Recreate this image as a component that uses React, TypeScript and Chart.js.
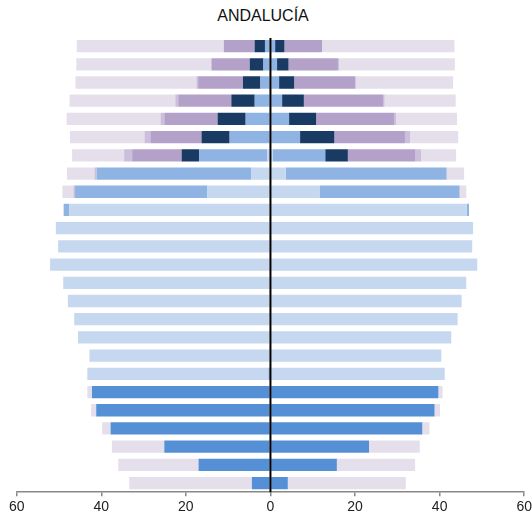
import React, { useEffect, useRef } from "react";
import { Chart, registerables } from "chart.js";

Chart.register(...registerables);

const TITLE = "ANDALUCÍA";

const rowLabels = [
  "1", "2", "3", "4", "5", "6", "7", "8", "9", "10", "11", "12", "13",
  "14", "15", "16", "17", "18", "19", "20", "21", "22", "23", "24", "25",
];

const seriesNames = ["Categoría 1", "Categoría 2", "Categoría 3", "Categoría 4", "Categoría 5", "Categoría 6", "Categoría 7"];
const seriesColors = ["#5590d6", "#c5d8ef", "#8fb4e3", "#183a63", "#b3a1c9", "#cbbfdc", "#e5dfeb"];

// Left side (drawn to the left of 0)
const left1 = [0, 0, 0, 0, 0, 0, 0, 0, 0, 0, 0, 0, 0, 0, 0, 0, 0, 0, 0.4, 42.2, 41.2, 37.8, 25.1, 17.0, 4.4];
const left2 = [0, 0, 0, 0, 0, 0, 0.7, 4.6, 14.9, 47.6, 50.75, 50.2, 52.1, 49.0, 47.9, 46.4, 45.5, 42.8, 42.9, 0, 0, 0, 0, 0, 0];
const left3 = [1.3, 1.66, 2.37, 3.72, 5.86, 9.65, 16.2, 36.5, 31.3, 1.3, 0, 0, 0, 0, 0, 0, 0, 0, 0, 0, 0, 0, 0, 0, 0];
const left4 = [2.45, 3.24, 4.13, 5.53, 6.64, 6.65, 4.1, 0, 0, 0, 0, 0, 0, 0, 0, 0, 0, 0, 0, 0, 0, 0, 0, 0, 0];
const left5 = [7.25, 9.0, 10.6, 12.55, 12.6, 12.1, 11.7, 0, 0, 0, 0, 0, 0, 0, 0, 0, 0, 0, 0, 0, 0, 0, 0, 0, 0];
const left6 = [0.1, 0.2, 0.4, 0.7, 0.9, 1.4, 1.9, 0.5, 0.4, 0, 0, 0, 0, 0, 0, 0, 0, 0, 0, 0, 0, 0, 0, 0, 0];
const left7 = [34.7, 31.8, 28.6, 25.0, 22.2, 17.6, 12.3, 6.5, 2.6, 0, 0, 0, 0, 0, 0, 0, 0, 0, 0, 1.1, 1.2, 2.0, 12.4, 19.0, 29.0];

// Right side (drawn to the right of 0)
const right1 = [0, 0, 0, 0, 0, 0, 0, 0, 0, 0, 0, 0, 0, 0, 0, 0, 0, 0, 0, 39.7, 38.8, 35.9, 23.3, 15.7, 4.1];
const right2 = [0, 0, 0, 0, 0, 0, 0.5, 3.6, 11.7, 46.4, 47.9, 47.7, 48.9, 46.3, 45.2, 44.25, 42.75, 40.4, 41.2, 0, 0, 0, 0, 0, 0];
const right3 = [1.1, 1.56, 2.04, 2.75, 4.4, 7.0, 12.45, 38.0, 33.0, 0.55, 0, 0, 0, 0, 0, 0, 0, 0, 0, 0, 0, 0, 0, 0, 0];
const right4 = [2.2, 2.71, 3.56, 5.15, 6.4, 8.1, 5.35, 0, 0, 0, 0, 0, 0, 0, 0, 0, 0, 0, 0, 0, 0, 0, 0, 0, 0];
const right5 = [8.9, 11.69, 14.4, 18.7, 18.4, 16.7, 16.0, 0, 0, 0, 0, 0, 0, 0, 0, 0, 0, 0, 0, 0, 0, 0, 0, 0, 0];
const right6 = [0, 0.24, 0.2, 0.4, 0.5, 1.2, 1.3, 0.2, 0.1, 0, 0, 0, 0, 0, 0, 0, 0, 0, 0, 0, 0, 0, 0, 0, 0];
const right7 = [31.3, 27.4, 23.0, 16.8, 14.4, 11.4, 8.3, 4.0, 1.5, 0, 0, 0, 0, 0, 0, 0, 0, 0, 0, 1.0, 1.3, 1.7, 12.0, 18.5, 27.9];

const xTicks = [-60, -40, -20, 0, 20, 40, 60];

const FONT = "'Liberation Sans', Arial, sans-serif";

const centerLine = {
  id: "centerLine",
  afterDatasetsDraw(chart: any) {
    const { ctx, chartArea, scales } = chart;
    const x = scales.x.getPixelForValue(0);
    ctx.save();
    ctx.strokeStyle = "#000";
    ctx.lineWidth = 2;
    ctx.beginPath();
    ctx.moveTo(x, chartArea.top + 1);
    ctx.lineTo(x, chartArea.bottom);
    ctx.stroke();
    ctx.restore();
  },
};

export default function App() {
  const ref = useRef<HTMLCanvasElement | null>(null);

  useEffect(() => {
    if (!ref.current) return;
    const leftSets = [left1, left2, left3, left4, left5, left6, left7];
    const rightSets = [right1, right2, right3, right4, right5, right6, right7];
    const datasets: any[] = [];
    leftSets.forEach((arr, i) => {
      datasets.push({
        label: seriesNames[i] + " (izq.)",
        data: arr.map((v) => -v),
        backgroundColor: seriesColors[i],
        borderWidth: 0,
        stack: "p",
      });
    });
    rightSets.forEach((arr, i) => {
      datasets.push({
        label: seriesNames[i] + " (der.)",
        data: arr,
        backgroundColor: seriesColors[i],
        borderWidth: 0,
        stack: "p",
      });
    });

    const chart = new Chart(ref.current, {
      type: "bar",
      data: { labels: rowLabels, datasets },
      options: {
        indexAxis: "y",
        animation: false,
        responsive: true,
        maintainAspectRatio: false,
        datasets: { bar: { barPercentage: 0.675, categoryPercentage: 1.0 } },
        layout: { padding: { left: 16.7, right: 9.3, top: 37, bottom: 3 } },
        plugins: {
          legend: { display: false },
          title: { display: false },
          tooltip: { enabled: false },
        },
        scales: {
          x: {
            stacked: true,
            min: -60,
            max: 60,
            afterBuildTicks: (scale: any) => {
              scale.ticks = xTicks.map((v) => ({ value: v }));
            },
            ticks: {
              color: "#222",
              font: { family: FONT, size: 14 },
              padding: 3,
              maxRotation: 0,
              callback: (v: any) => String(Math.abs(Number(v))),
            },
            grid: {
              display: true,
              drawOnChartArea: false,
              drawTicks: true,
              tickLength: 4,
              color: "#888",
              lineWidth: 1.5,
            },
            border: { display: true, color: "#888", width: 1.5 },
          },
          y: {
            stacked: true,
            display: false,
          },
        },
      },
      plugins: [centerLine],
    });
    return () => chart.destroy();
  }, []);

  return (
    <div style={{ position: "absolute", left: 0, top: 0, width: 535, height: 522, overflow: "hidden" }}>
      <div
        style={{
          position: "absolute",
          left: 163,
          width: 200,
          top: 8,
          textAlign: "center",
          fontFamily: FONT,
          fontSize: 16,
          lineHeight: "16px",
          color: "#111",
          whiteSpace: "nowrap",
        }}
      >
        {TITLE}
      </div>
      <canvas ref={ref} style={{ position: "absolute", left: 0, top: 0, width: 535, height: 522 }} />
    </div>
  );
}
